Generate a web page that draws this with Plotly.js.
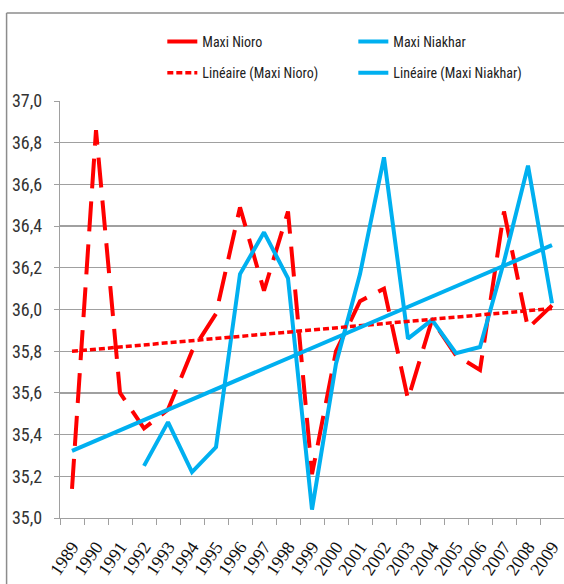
<!DOCTYPE html>
<html>
<head>
<meta charset="utf-8">
<script src="https://cdn.plot.ly/plotly-3.0.1.min.js"></script>
<style>
html,body{margin:0;padding:0;background:#fff;}
#chart{width:564px;height:584px;}
</style>
</head>
<body>
<div id="chart"></div>
<script>
// ---- data ----
const years = ["1989","1990","1991","1992","1993","1994","1995","1996","1997","1998","1999",
               "2000","2001","2002","2003","2004","2005","2006","2007","2008","2009"];
const maxiNioro = [35.14, 36.86, 35.60, 35.43, 35.52, 35.80, 35.98, 36.49, 36.09, 36.47, 35.21,
                   35.80, 36.04, 36.10, 35.57, 35.95, 35.78, 35.71, 36.47, 35.91, 36.02];
const maxiNiakhar = [null, null, null, 35.25, 35.46, 35.22, 35.34, 36.17, 36.37, 36.15, 35.04,
                     35.74, 36.17, 36.73, 35.86, 35.95, 35.79, 35.82, 36.23, 36.69, 36.03];
const seriesNames = ["Maxi Nioro", "Maxi Niakhar", "Linéaire (Maxi Nioro)", "Linéaire (Maxi Niakhar)"];
const yTicks = [35.0, 35.2, 35.4, 35.6, 35.8, 36.0, 36.2, 36.4, 36.6, 36.8, 37.0];

// linear trend (least squares on category index), as the spreadsheet does
function linearTrend(vals) {
  const pts = [];
  vals.forEach((v, i) => { if (v !== null) pts.push([i + 1, v]); });
  const n = pts.length;
  const mx = pts.reduce((s, p) => s + p[0], 0) / n;
  const my = pts.reduce((s, p) => s + p[1], 0) / n;
  let sxy = 0, sxx = 0;
  pts.forEach(p => { sxy += (p[0] - mx) * (p[1] - my); sxx += (p[0] - mx) * (p[0] - mx); });
  const b = sxy / sxx, a = my - b * mx;
  return vals.map((v, i) => a + b * (i + 1));
}

const RED = "#ff0000", BLUE = "#00b0f0";
const NARROW = "Roboto Condensed, Liberation Sans Narrow, Liberation Sans, sans-serif";
const legFont = {family: NARROW, size: 14, color: "#222"};

const traces = [
  {x: years, y: maxiNioro, name: seriesNames[0], mode: "lines", legend: "legend",
   line: {color: RED, width: 4, dash: "30px,13px"}},
  {x: years, y: maxiNiakhar, name: seriesNames[1], mode: "lines", legend: "legend2",
   line: {color: BLUE, width: 4}},
  {x: years, y: linearTrend(maxiNioro), name: seriesNames[2], mode: "lines", legend: "legend3",
   line: {color: RED, width: 3.5, dash: "6px,3px"}},
  {x: years, y: linearTrend(maxiNiakhar), name: seriesNames[3], mode: "lines", legend: "legend4",
   line: {color: BLUE, width: 4}}
];

function leg(x, y) {
  return {x: x, y: y, xanchor: "left", yanchor: "middle", orientation: "v",
          font: legFont, bgcolor: "rgba(0,0,0,0)", borderwidth: 0};
}

const layout = {
  width: 564, height: 584,
  margin: {l: 60, r: 0, t: 101, b: 66},
  paper_bgcolor: "#fff", plot_bgcolor: "#fff",
  separators: ",.",
  showlegend: true,
  legend: leg(0.203, 1.1415),
  legend2: leg(0.582, 1.1415),
  legend3: leg(0.203, 1.067),
  legend4: leg(0.582, 1.067),
  xaxis: {
    type: "category", range: [-0.5, 20.5],
    showgrid: false, showline: true, linecolor: "#a0a0a0", linewidth: 1.3,
    ticks: "outside", tickson: "boundaries", ticklen: 6, tickcolor: "#a0a0a0",
    tickangle: -56, ticklabelstandoff: 10,
    tickfont: {family: "Liberation Serif, serif", size: 18, color: "#111"},
    zeroline: false
  },
  yaxis: {
    range: [35.0, 37.0], tickvals: yTicks, tickformat: ".1f",
    showgrid: true, gridcolor: "#a0a0a0", gridwidth: 1.3,
    showline: true, linecolor: "#a0a0a0", linewidth: 1.3,
    ticks: "outside", ticklen: 5, tickcolor: "#a0a0a0", ticklabelstandoff: 8,
    tickfont: {family: NARROW, size: 18, color: "#333"},
    zeroline: false
  },
  shapes: [
    {type: "line", xref: "paper", yref: "paper", x0: -0.106, x1: 1.2, y0: 1.211, y1: 1.211,
     line: {color: "#8c8c8c", width: 1.5}},
    {type: "line", xref: "paper", yref: "paper", x0: -0.106, x1: -0.106, y0: 1.211, y1: -0.5,
     line: {color: "#8c8c8c", width: 1.5}}
  ]
};

Plotly.newPlot("chart", traces, layout, {displayModeBar: false, staticPlot: true});
</script>
</body>
</html>
